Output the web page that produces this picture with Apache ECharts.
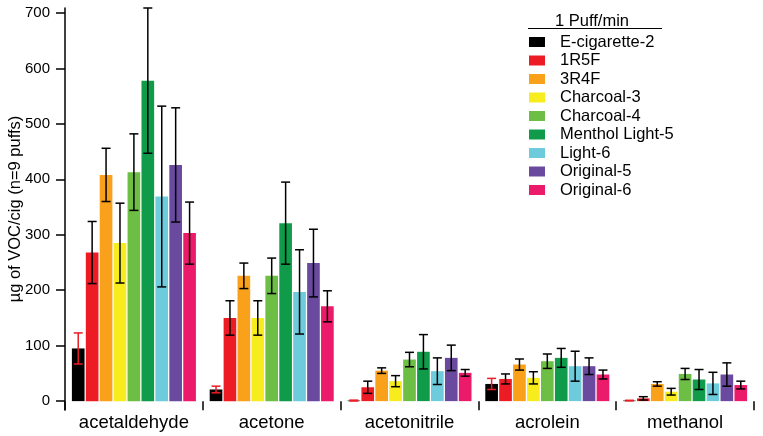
<!DOCTYPE html>
<html><head><meta charset="utf-8">
<script src="https://cdn.jsdelivr.net/npm/echarts@6/dist/echarts.min.js"></script>
<style>html,body{margin:0;padding:0;background:#fff}#c{width:763px;height:436px}</style>
</head><body><div id="c"></div>
<script>
const categories = ['acetaldehyde', 'acetone', 'acetonitrile', 'acrolein', 'methanol'];
const seriesNames = ['E-cigarette-2', '1R5F', '3R4F', 'Charcoal-3', 'Charcoal-4', 'Menthol Light-5', 'Light-6', 'Original-5', 'Original-6'];
const yTicks = [0, 100, 200, 300, 400, 500, 600, 700];

const eCigarette2 = [95, 21, 1, 31, 1];
const r1r5f = [268, 150, 25, 40, 5];
const r3r4f = [408, 226, 55, 66, 31];
const charcoal3 = [285, 150, 36, 42, 17];
const charcoal4 = [413, 226, 75, 72, 49];
const mentholLight5 = [578, 321, 89, 78, 39];
const light6 = [369, 197, 54, 63, 32];
const original5 = [426, 249, 78, 63, 48];
const original6 = [303, 171, 51, 48, 29];

const eCigarette2Err = [28, 6, 0.8, 10, 0.5];
const r1r5fErr = [56, 31, 11, 9, 3];
const r3r4fErr = [48, 23, 5, 10, 4];
const charcoal3Err = [72, 31, 10, 11, 6];
const charcoal4Err = [69, 32, 13, 13, 10];
const mentholLight5Err = [131, 74, 31, 17, 18];
const light6Err = [163, 76, 24, 27, 20];
const original5Err = [103, 61, 23, 15, 21];
const original6Err = [56, 28, 6, 8, 7];

const values = [eCigarette2, r1r5f, r3r4f, charcoal3, charcoal4, mentholLight5, light6, original5, original6];
const errors = [eCigarette2Err, r1r5fErr, r3r4fErr, charcoal3Err, charcoal4Err, mentholLight5Err, light6Err, original5Err, original6Err];
const colors = ['#000000', '#ED1C24', '#F9A11B', '#F7EC1D', '#6CBE45', '#0F9B4A', '#6DCBDB', '#6A4A9E', '#EC1A6B'];
const errColors = ['#ED1C24', '#000', '#000', '#000', '#000', '#000', '#000', '#000', '#000'];

const N = seriesNames.length;
const catGap = 0.10, barGap = 0.10;
const font = 'Liberation Sans, Arial, sans-serif';

const series = [];
seriesNames.forEach((name, i) => {
  series.push({
    name: name, type: 'bar', data: values[i],
    itemStyle: { color: colors[i] },
    barGap: '10%', barCategoryGap: '10%',
    z: 2
  });
});
seriesNames.forEach((name, i) => {
  series.push({
    type: 'custom', name: name + '-err',
    data: values[i].map((v, k) => [k, v - errors[i][k], v + errors[i][k]]),
    z: 5, silent: true,
    renderItem: function (params, api) {
      const k = api.value(0);
      const lo = api.coord([k, api.value(1)]);
      const hi = api.coord([k, api.value(2)]);
      const catW = api.size([1, 0])[0];
      const used = catW * (1 - catGap);
      const bw = used / (N + (N - 1) * barGap);
      const x = lo[0] - used / 2 + bw * (i * (1 + barGap) + 0.5);
      const cap = 4.5;
      const st = { stroke: errColors[i], lineWidth: 1.5 };
      return {
        type: 'group', children: [
          { type: 'line', shape: { x1: x, y1: hi[1], x2: x, y2: lo[1] }, style: st },
          { type: 'line', shape: { x1: x - cap, y1: hi[1], x2: x + cap, y2: hi[1] }, style: st },
          { type: 'line', shape: { x1: x - cap, y1: lo[1], x2: x + cap, y2: lo[1] }, style: st }
        ]
      };
    }
  });
});

const chart = echarts.init(document.getElementById('c'));
chart.setOption({
  animation: false,
  backgroundColor: '#fff',
  textStyle: { fontFamily: font },
  title: {
    text: '1 Puff/min', left: 550, top: 8,
    textStyle: { fontFamily: font, fontSize: 16.5, fontWeight: 'normal', color: '#000' }
  },
  graphic: [{
    type: 'line', shape: { x1: 528, y1: 28.5, x2: 662, y2: 28.5 },
    style: { stroke: '#000', lineWidth: 1 }
  }],
  legend: {
    data: seriesNames, orient: 'vertical', left: 524, top: 28.5,
    icon: 'rect', itemWidth: 16, itemHeight: 10, itemGap: 1.5,
    formatter: n => '{t|' + n + '}',
    textStyle: { fontFamily: font, fontSize: 16.5, color: '#000',
      rich: { t: { fontFamily: font, fontSize: 16.5, color: '#000', padding: [0, 0, 0, 10] } } }
  },
  grid: { left: 65, right: 9, top: 8, bottom: 26, containLabel: false, outerBoundsMode: 'none' },
  xAxis: {
    type: 'category', data: categories,
    axisLine: { show: true, onZero: true, lineStyle: { opacity: 0 } },
    axisTick: { show: true, length: 9, lineStyle: { color: '#000', width: 1.5 } },
    axisLabel: { color: '#000', fontSize: 18.5, margin: 3, interval: 0, hideOverlap: false, fontFamily: font }
  },
  yAxis: {
    type: 'value', min: -16, max: 709,
    name: 'µg of VOC/cig (n=9 puffs)', nameLocation: 'middle', nameGap: 41, nameMoveOverlap: false,
    nameTextStyle: { fontSize: 16.5, color: '#000', fontFamily: font },
    axisLine: { show: true, lineStyle: { color: '#000', width: 1.5 } },
    axisTick: { show: true, length: 9, customValues: yTicks, lineStyle: { color: '#000', width: 1.5 } },
    axisLabel: { color: '#000', fontSize: 15, margin: 15, customValues: yTicks, fontFamily: font },
    splitLine: { show: false }
  },
  series: series
});
</script></body></html>
